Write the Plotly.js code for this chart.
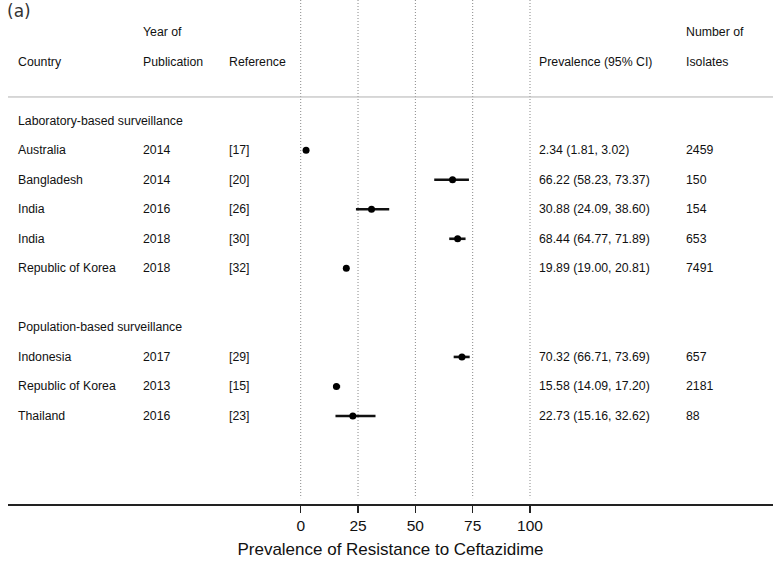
<!DOCTYPE html>
<html>
<head>
<meta charset="utf-8">
<script src="https://cdn.plot.ly/plotly-3.0.1.min.js"></script>
<style>
html,body{margin:0;padding:0;background:#fff;}
#chart{width:777px;height:561px;}
</style>
</head>
<body>
<div id="chart"></div>
<script>
// ---- data ----
var groups = ["Laboratory-based surveillance", "Population-based surveillance"];
var studyGroup = [0, 0, 0, 0, 0, 1, 1, 1];
var countries = ["Australia", "Bangladesh", "India", "India", "Republic of Korea", "Indonesia", "Republic of Korea", "Thailand"];
var years = ["2014", "2014", "2016", "2018", "2018", "2017", "2013", "2016"];
var refs = ["[17]", "[20]", "[26]", "[30]", "[32]", "[29]", "[15]", "[23]"];
var prevalence = [2.34, 66.22, 30.88, 68.44, 19.89, 70.32, 15.58, 22.73];
var ciLow = [1.81, 58.23, 24.09, 64.77, 19.00, 66.71, 14.09, 15.16];
var ciHigh = [3.02, 73.37, 38.60, 71.89, 20.81, 73.69, 17.20, 32.62];
var isolates = ["2459", "150", "154", "653", "7491", "657", "2181", "88"];
var tickVals = [0, 25, 50, 75, 100];
var xTitle = "Prevalence of Resistance to Ceftazidime";
var panelLabel = "(a)";

// ---- layout of rows ----
var rowOf = [];
var groupRow = [];
var r = 3, last = -1;
for (var i = 0; i < countries.length; i++) {
  if (studyGroup[i] !== last) {
    if (last !== -1) r += 1; // blank spacer row
    groupRow.push(r); r += 1; last = studyGroup[i];
  }
  rowOf.push(r); r += 1;
}

// column x positions (data units of the x axis)
var colCountry = -123.8, colYear = -69.4, colRef = -31.9, colPrev = 103.6, colN = 167.7;

var FONT = "'Liberation Sans', Arial, Helvetica, sans-serif";
var ann = [];
function addText(x, y, txt) {
  ann.push({x: x, y: y, xref: "x", yref: "y", text: txt, showarrow: false,
            xanchor: "left", yanchor: "middle", borderpad: 0,
            font: {family: FONT, size: 12.3, color: "#111"}});
}
// headers
addText(colYear, 0, "Year of");
addText(colN, 0, "Number of");
addText(colCountry, 1, "Country");
addText(colYear, 1, "Publication");
addText(colRef, 1, "Reference");
addText(colPrev, 1, "Prevalence (95% CI)");
addText(colN, 1, "Isolates");
for (var g = 0; g < groups.length; g++) addText(colCountry, groupRow[g], groups[g]);
for (var i = 0; i < countries.length; i++) {
  var y = rowOf[i];
  addText(colCountry, y, countries[i]);
  addText(colYear, y, years[i]);
  addText(colRef, y, refs[i]);
  addText(colPrev, y, prevalence[i].toFixed(2) + " (" + ciLow[i].toFixed(2) + ", " + ciHigh[i].toFixed(2) + ")");
  addText(colN, y, isolates[i]);
}
ann.push({x: 0, y: 1, xref: "paper", yref: "paper", xanchor: "left", yanchor: "top",
          xshift: -3, yshift: 1, showarrow: false, text: panelLabel,
          font: {family: "'DejaVu Sans', sans-serif", size: 17, color: "#333"}});

var yTop = -1.083, yBottom = 15.978, yLineEnd = 15.78;
var shapes = tickVals.map(function (v) {
  return {type: "line", xref: "x", yref: "y", x0: v, x1: v, y0: yTop, y1: yLineEnd,
          line: {color: "#888", width: 1, dash: "1px,2px"}, layer: "below"};
});
shapes.push({type: "line", xref: "paper", yref: "y", x0: 0, x1: 1, y0: 2.2, y1: 2.2,
             line: {color: "#b0b0b0", width: 1}});

var errPlus = prevalence.map(function (p, i) { return ciHigh[i] - p; });
var errMinus = prevalence.map(function (p, i) { return p - ciLow[i]; });

var trace = {
  type: "scatter", mode: "markers", x: prevalence, y: rowOf,
  marker: {color: "#000", size: 7},
  error_x: {type: "data", symmetric: false, array: errPlus, arrayminus: errMinus,
            color: "#111", thickness: 2.6, width: 0},
  hoverinfo: "skip", showlegend: false
};

var layout = {
  width: 777, height: 561,
  margin: {l: 8, r: 4, t: 0, b: 57},
  paper_bgcolor: "#fff", plot_bgcolor: "#fff",
  showlegend: false,
  xaxis: {range: [-127.65, 205.97], tickvals: tickVals, ticktext: tickVals.map(String),
          showgrid: false, zeroline: false, showline: true, linecolor: "#222", linewidth: 1.5,
          ticks: "outside", ticklen: 7, tickwidth: 1.2, tickcolor: "#222",
          tickfont: {family: FONT, size: 15.5, color: "#111"},
          title: {text: xTitle, font: {family: FONT, size: 17, color: "#111"}, standoff: 10},
          automargin: false, fixedrange: true},
  yaxis: {range: [yBottom, yTop], visible: false, showgrid: false, zeroline: false, fixedrange: true},
  annotations: ann,
  shapes: shapes
};

Plotly.newPlot("chart", [trace], layout, {displayModeBar: false, staticPlot: true});
</script>
</body>
</html>
